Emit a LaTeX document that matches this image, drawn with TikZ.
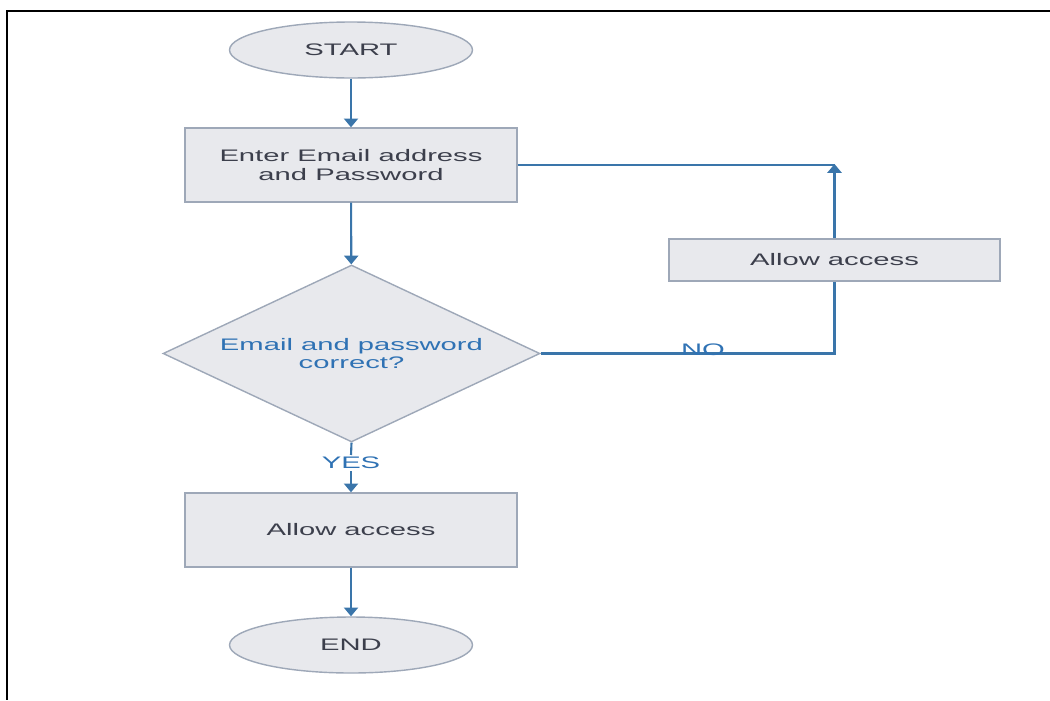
\documentclass[tikz,border=0pt]{standalone}
\usepackage{fontspec}
\usetikzlibrary{shapes.geometric,arrows.meta}
\newfontfamily\flowfont{Liberation Sans}[FakeStretch=1.75]
\definecolor{boxfill}{HTML}{E8E9ED}
\definecolor{boxline}{HTML}{9EA8B8}
\definecolor{linkblue}{HTML}{3A75AA}
\definecolor{textgray}{HTML}{3C3F4C}
\definecolor{textblue}{HTML}{2F72B4}
\begin{document}
\begin{tikzpicture}[x=0.02cm,y=-0.02cm,
  base/.style={draw=boxline,fill=boxfill,line width=0.8pt,text=textgray,
    font=\flowfont\fontsize{9.5}{10.3}\selectfont,align=center,inner sep=0pt},
  terminal/.style={base,ellipse,minimum width=4.86cm,minimum height=1.12cm},
  process/.style={base,rectangle,minimum width=6.64cm,minimum height=1.48cm},
  smallproc/.style={base,rectangle,minimum width=6.62cm,minimum height=0.84cm},
  decision/.style={base,diamond,shape aspect=2.13,minimum width=7.54cm,minimum height=3.54cm,text=textblue},
  lbl/.style={text=textblue,font=\flowfont\fontsize{9.5}{10.3}\selectfont,inner sep=1pt},
  link/.style={draw=linkblue,line width=1.2pt},
  arr/.style={link,-{Triangle[width=8pt,length=5pt]}}]
\useasboundingbox (0,0) rectangle (1050,700);
\draw[line width=1.7pt] (1050,11) -- (7,11) -- (7,700);

\node[terminal] (start) at (351,50) {START};
\node[process] (enter) at (351,165) {Enter Email address\\and Password};
\node[decision] (check) at (351.5,353.5) {Email and password\\correct?};
\node[process] (allow) at (351,530) {Allow access};
\node[terminal] (end) at (351,645) {END};
\node[smallproc] (alt) at (834.5,260) {Allow access};
\coordinate (corner) at (834.5,164);

\node[lbl,fill=white] (yes) at (351,463) {YES};

\draw[arr] (start) -- (enter);
\draw[arr] (enter) -- (check);
\draw[link] (check.south) -- (yes.north);
\draw[arr] (yes.south) -- (allow.north);
\draw[arr] (allow) -- (end);
\draw[link] (check.east) -- (check.east -| alt.south) -- (alt.south);
\node[lbl,anchor=base] (no) at (703,355) {NO};
\draw[arr] (alt.north) -- (corner);
\draw[link] (enter.east) -- (enter.east -| corner);
\end{tikzpicture}
\end{document}
